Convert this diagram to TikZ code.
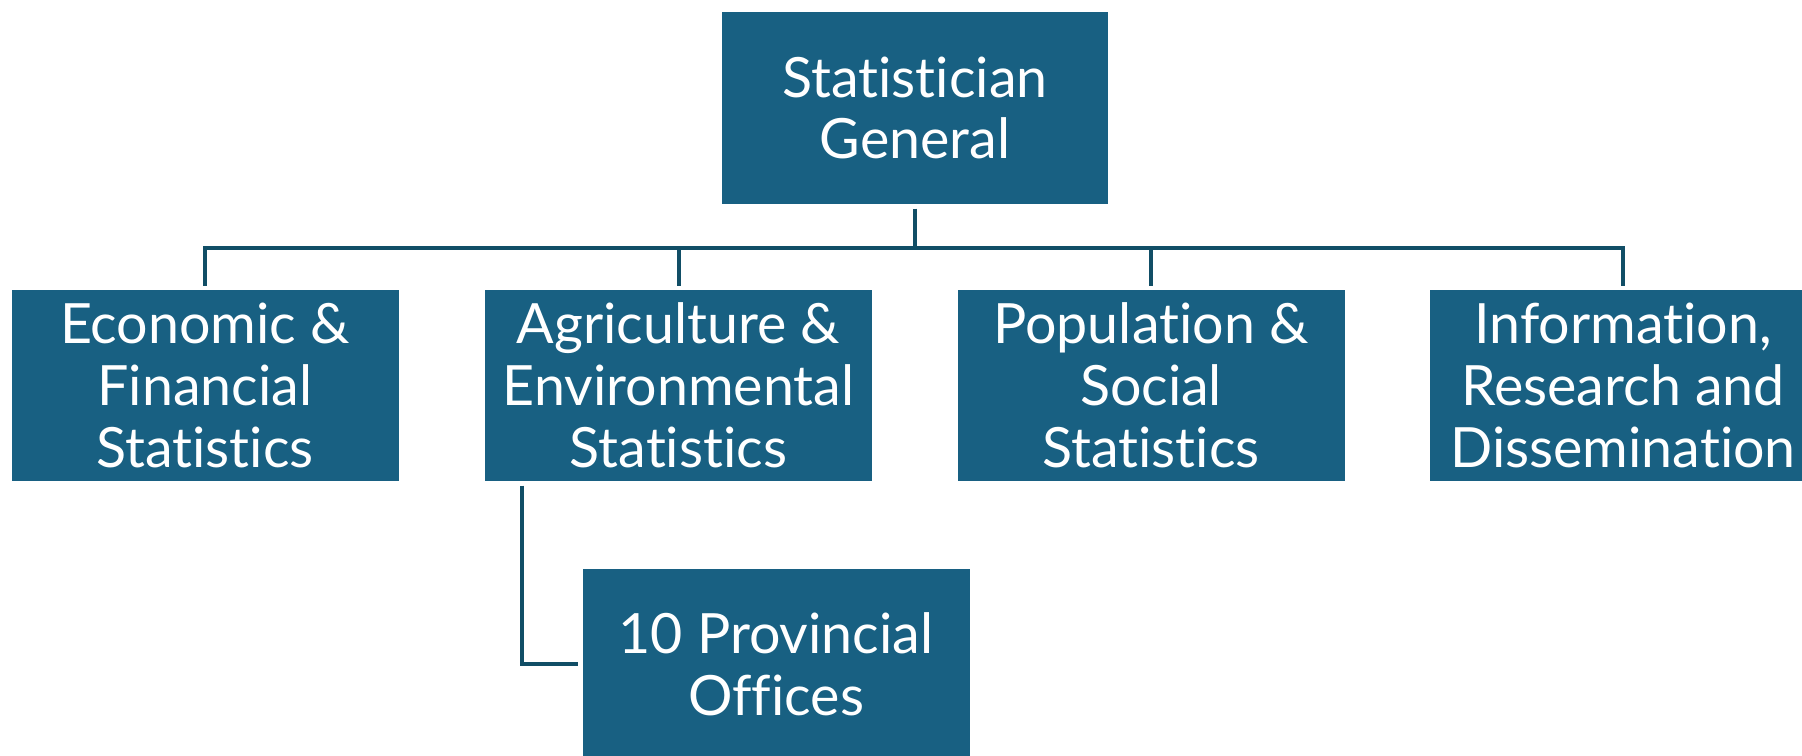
\documentclass[tikz,border=0pt]{standalone}
\usepackage{fontspec}
\setmainfont{Lato}[Ligatures=NoCommon]
\usetikzlibrary{positioning}
\definecolor{boxblue}{HTML}{186082}
\definecolor{linkblue}{HTML}{114E66}

\begin{document}
\begin{tikzpicture}[
    orgbox/.style={fill=boxblue, text=white, minimum width=3.87cm, minimum height=1.91cm,
        inner sep=0pt, outer sep=0.045cm, align=center,
        font=\fontsize{15.8}{17.6}\selectfont},
    link/.style={draw=linkblue, line width=0.04cm}
]
    \useasboundingbox (0,0) rectangle (18.02,-7.55);

    % Top of the chart
    \node[orgbox, minimum width=3.86cm, minimum height=1.92cm] (sg) at (9.15,-1.08) {Statistician\\General};

    % Divisions
    \node[orgbox] (econ) at (2.05,-3.855) {Economic \&\\Financial\\Statistics};
    \node[orgbox] (agri) at (6.785,-3.855) {Agriculture \&\\Environmental\\Statistics};
    \node[orgbox] (pop) at (11.51,-3.855) {Population \&\\Social\\Statistics};
    \node[orgbox] (info) at (16.23,-3.855) {Information,\\Research and\\Dissemination};

    % Provincial offices
    \node[orgbox] (prov) at (7.76,-6.64) {10 Provincial\\Offices};

    % Connectors
    \draw[link] (sg.south) -- ++(0,-0.39) coordinate (bus);
    \draw[link] (econ.north) |- (bus) -| (info.north);
    \draw[link] (agri.north) -- (agri.north |- bus);
    \draw[link] (pop.north) -- (pop.north |- bus);
    \draw[link] ([xshift=-1.57cm]agri.south) |- (prov.west);
\end{tikzpicture}
\end{document}
